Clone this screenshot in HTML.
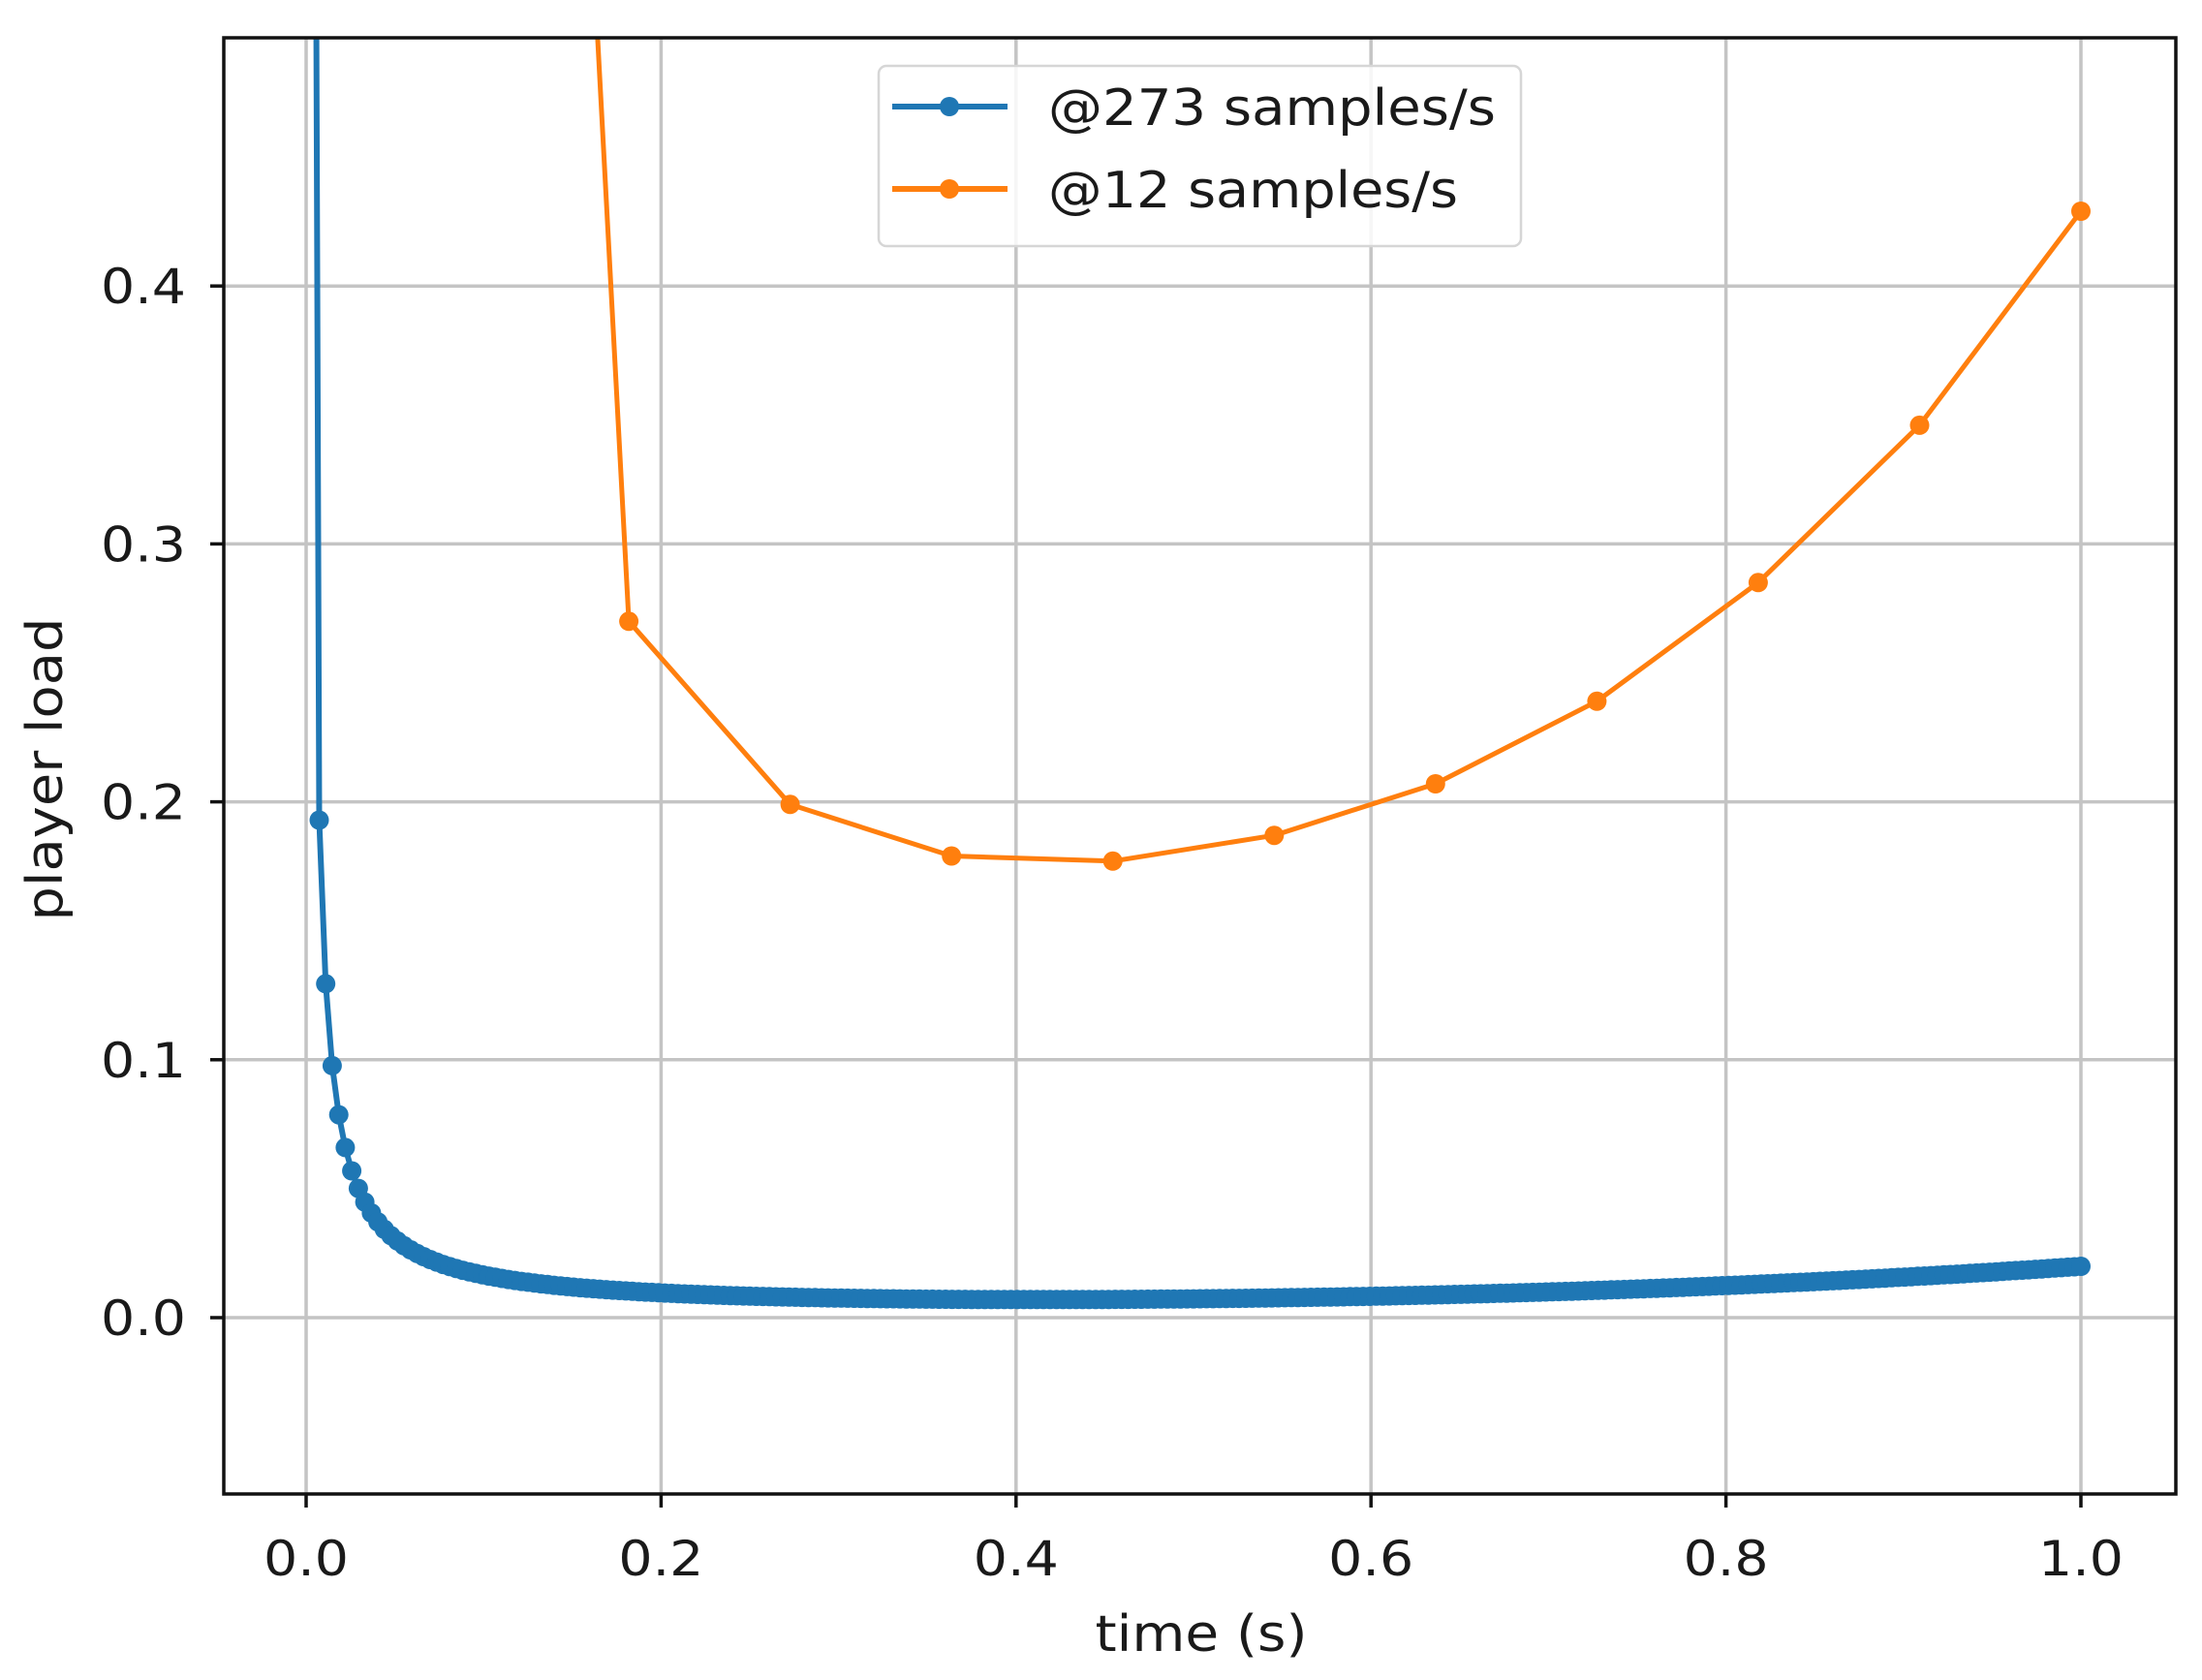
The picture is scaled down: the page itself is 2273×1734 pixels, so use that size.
<!DOCTYPE html>
<html><head><meta charset="utf-8"><style>
html,body{margin:0;padding:0;background:#fff;}
svg{display:block;}
text{font-family:"DejaVu Sans","Liberation Sans",sans-serif;fill:#1a1a1a;}
</style></head><body>
<svg id="s" width="2273" height="1734" viewBox="0 0 2273 1734" xmlns="http://www.w3.org/2000/svg">
<defs><clipPath id="c"><rect x="231" y="39" width="2015" height="1503"/></clipPath></defs>
<rect width="2273" height="1734" fill="#fff"/>
<g id="grid" stroke="#c4c4c4" stroke-width="3.5"></g>
<g id="data" clip-path="url(#c)"></g>
<rect x="231" y="39" width="2015" height="1503" fill="none" stroke="#111" stroke-width="3.5"/>
<g id="ticks" stroke="#111" stroke-width="3.5"></g>
<g id="labels" font-size="50"></g>
<g>
<rect x="907" y="68" width="663" height="186" rx="8" fill="#fff" fill-opacity="0.85" stroke="#d6d6d6" stroke-width="2.5"/>
<line x1="921" y1="110" x2="1040" y2="110" stroke="#1f77b4" stroke-width="6"/>
<circle cx="980" cy="110" r="10" fill="#1f77b4"/>
<line x1="921" y1="195" x2="1040" y2="195" stroke="#ff7f0e" stroke-width="6"/>
<circle cx="980" cy="195" r="10" fill="#ff7f0e"/>
<text x="1082" y="129" font-size="52" textLength="462" lengthAdjust="spacingAndGlyphs">@273 samples/s</text>
<text x="1082" y="214" font-size="52" textLength="423" lengthAdjust="spacingAndGlyphs">@12 samples/s</text>
</g>
<text x="1240" y="1704" font-size="52" text-anchor="middle" textLength="219" lengthAdjust="spacingAndGlyphs">time (s)</text>
<text transform="translate(64,794) rotate(-90)" font-size="52" text-anchor="middle" textLength="313" lengthAdjust="spacingAndGlyphs">player load</text>
</svg>
<script>
var NS="http://www.w3.org/2000/svg";
function X(v){return 316+v*1832;}
function Y(v){return 1360-v*2662;}
function el(p,t,a){var e=document.createElementNS(NS,t);for(var k in a)e.setAttribute(k,a[k]);p.appendChild(e);return e;}
var grid=document.getElementById('grid'),ticks=document.getElementById('ticks'),labels=document.getElementById('labels'),data=document.getElementById('data');
for(var i=0;i<=5;i++){var v=i*0.2,x=X(v);
 el(grid,'line',{x1:x,y1:39,x2:x,y2:1542});
 el(ticks,'line',{x1:x,y1:1542,x2:x,y2:1556});
 var t=el(labels,'text',{x:x,y:1626,'text-anchor':'middle',textLength:88,lengthAdjust:'spacingAndGlyphs'});t.textContent=v.toFixed(1);}
for(var i=0;i<=4;i++){var v=i*0.1,y=Y(v);
 el(grid,'line',{x1:231,y1:y,x2:2246,y2:y});
 el(ticks,'line',{x1:217,y1:y,x2:231,y2:y});
 var t=el(labels,'text',{x:192,y:y+18,'text-anchor':'end',textLength:88,lengthAdjust:'spacingAndGlyphs'});t.textContent=v.toFixed(1);}
// blue
var bp=[[X(0.001),Y(1.5)],[X(1/272),Y(0.9)]];
for(var k=2;k<=272;k++){var x=k/272,v=0.0014/x+0.0025+0.016*x*x*x;bp.push([X(x),Y(v)]);}
el(data,'polyline',{points:bp.map(function(p){return p[0].toFixed(1)+','+p[1].toFixed(1)}).join(' '),fill:'none',stroke:'#1f77b4','stroke-width':6,'stroke-linejoin':'round'});
for(var k=1;k<bp.length;k++)el(data,'circle',{cx:bp[k][0].toFixed(1),cy:bp[k][1].toFixed(1),r:10,fill:'#1f77b4'});
// orange
var ov=[1.44,0.27,0.199,0.179,0.177,0.187,0.207,0.239,0.285,0.346,0.429];
var op=[];for(var k=0;k<ov.length;k++)op.push([X((k+1)/11),Y(ov[k])]);
el(data,'polyline',{points:op.map(function(p){return p[0].toFixed(1)+','+p[1].toFixed(1)}).join(' '),fill:'none',stroke:'#ff7f0e','stroke-width':5,'stroke-linejoin':'round'});
for(var k=0;k<op.length;k++)el(data,'circle',{cx:op[k][0].toFixed(1),cy:op[k][1].toFixed(1),r:10,fill:'#ff7f0e'});
</script>
</body></html>
